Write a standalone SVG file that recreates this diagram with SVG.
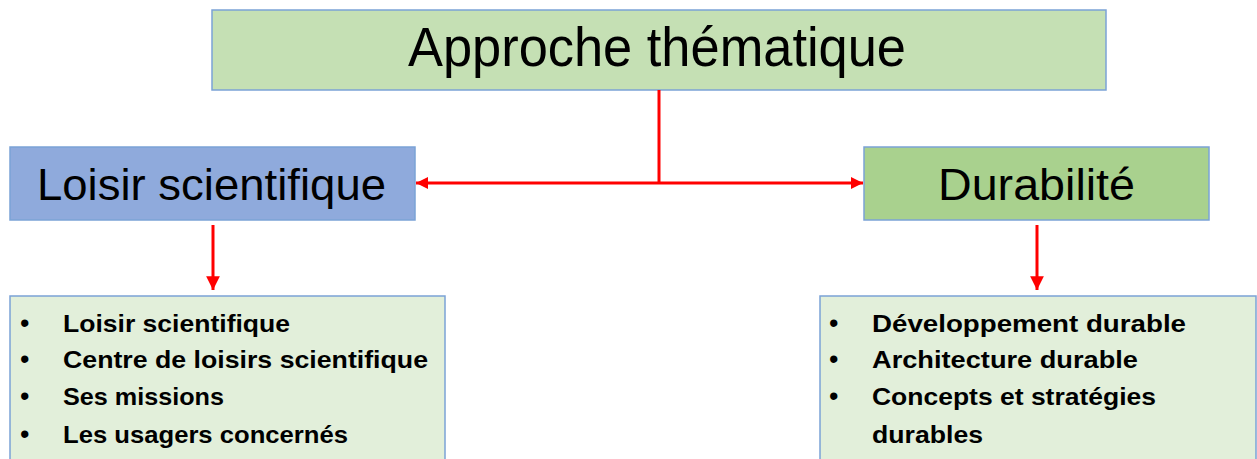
<svg xmlns="http://www.w3.org/2000/svg" width="1257" height="459" viewBox="0 0 1257 459">
  <style>
    .box { stroke: #7ba3d6; stroke-width: 1.5; }
    .title { font-family: "Liberation Sans", Arial, sans-serif; fill: #000; }
    .item { font-family: "Liberation Sans", Arial, sans-serif; font-weight: bold; font-size: 24px; fill: #000; }
    .dot { font-family: "Liberation Sans", Arial, sans-serif; font-size: 27px; fill: #000; }
    .link { stroke: #ff0000; stroke-width: 3; fill: none; }
  </style>
  <defs>
    <marker id="head" viewBox="0 0 10 10" refX="10" refY="5" markerWidth="4" markerHeight="4" orient="auto" markerUnits="strokeWidth">
      <path d="M0,0 L10,5 L0,10 z" fill="#ff0000"/>
    </marker>
    <marker id="headBig" viewBox="0 0 10 10" refX="10" refY="5" markerWidth="4.6" markerHeight="4.6" orient="auto" markerUnits="strokeWidth">
      <path d="M0,0 L10,5 L0,10 z" fill="#ff0000"/>
    </marker>
  </defs>
  <rect width="1257" height="459" fill="#ffffff"/>

  <g id="approche">
    <rect class="box" x="212" y="10" width="894" height="80" fill="#c5e0b4"/>
    <text class="title" x="408" y="66" font-size="56" textLength="498" lengthAdjust="spacingAndGlyphs">Approche thématique</text>
  </g>

  <g id="loisir">
    <rect class="box" x="10" y="147" width="405" height="73" fill="#8faadc"/>
    <text class="title" x="37" y="200" font-size="45" textLength="349" lengthAdjust="spacingAndGlyphs">Loisir scientifique</text>
  </g>

  <g id="durabilite">
    <rect class="box" x="864" y="147" width="345" height="73" fill="#a9d18e"/>
    <text class="title" x="938" y="200" font-size="45" textLength="197" lengthAdjust="spacingAndGlyphs">Durabilité</text>
  </g>

  <g id="loisir-items">
    <rect class="box" x="10" y="296" width="435" height="170" fill="#e2efda"/>
    <text class="dot" x="20" y="332">•</text>
    <text class="item" x="63" y="332" textLength="227" lengthAdjust="spacingAndGlyphs">Loisir scientifique</text>
    <text class="dot" x="20" y="368">•</text>
    <text class="item" x="63" y="368" textLength="365" lengthAdjust="spacingAndGlyphs">Centre de loisirs scientifique</text>
    <text class="dot" x="20" y="405">•</text>
    <text class="item" x="63" y="405" textLength="161" lengthAdjust="spacingAndGlyphs">Ses missions</text>
    <text class="dot" x="20" y="443">•</text>
    <text class="item" x="63" y="443" textLength="285" lengthAdjust="spacingAndGlyphs">Les usagers concernés</text>
  </g>

  <g id="durabilite-items">
    <rect class="box" x="820" y="296" width="436" height="170" fill="#e2efda"/>
    <text class="dot" x="829" y="332">•</text>
    <text class="item" x="872" y="332" textLength="314" lengthAdjust="spacingAndGlyphs">Développement durable</text>
    <text class="dot" x="829" y="368">•</text>
    <text class="item" x="872" y="368" textLength="266" lengthAdjust="spacingAndGlyphs">Architecture durable</text>
    <text class="dot" x="829" y="405">•</text>
    <text class="item" x="872" y="405" textLength="284" lengthAdjust="spacingAndGlyphs">Concepts et stratégies</text>
    <text class="item" x="872" y="443" textLength="111" lengthAdjust="spacingAndGlyphs">durables</text>
  </g>

  <g id="connectors">
    <line class="link" x1="659" y1="90" x2="659" y2="183"/>
    <line class="link" x1="659" y1="183" x2="416" y2="183" marker-end="url(#head)"/>
    <line class="link" x1="659" y1="183" x2="863" y2="183" marker-end="url(#head)"/>
    <line class="link" x1="213" y1="225" x2="213" y2="290" marker-end="url(#headBig)"/>
    <line class="link" x1="1037" y1="225" x2="1037" y2="290" marker-end="url(#headBig)"/>
  </g>
</svg>
